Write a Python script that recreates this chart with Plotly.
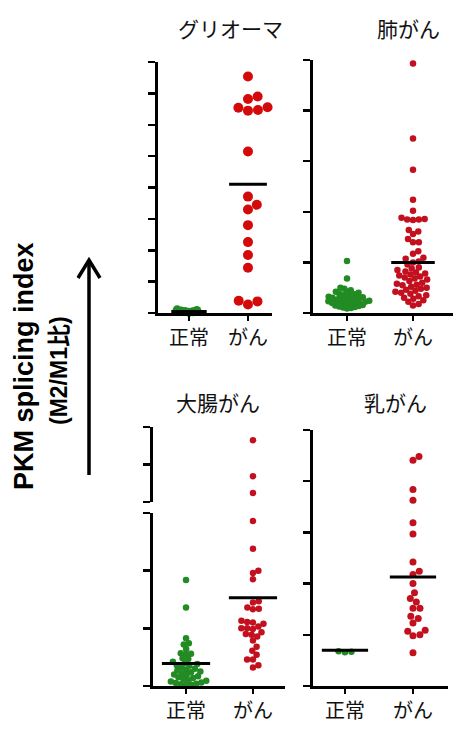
import numpy as np
import plotly.graph_objects as go

W, H = 456, 731

categories = ["正常", "がん"]
panel_titles = ["グリオーマ", "肺がん", "大腸がん", "乳がん"]
y_title = "PKM splicing index"
y_subtitle = "(M2/M1比)"

glioma_normal = [0.02, 0.04, 0.06, 0.08, 0.05, 0.1]
glioma_cancer = [7.54, 6.9, 6.82, 6.56, 6.54, 6.47, 6.45, 5.15, 3.71, 3.45, 3.3,
                 2.8, 2.26, 1.85, 1.44, 0.39, 0.37, 0.27]
lung_normal = [1.03, 0.68, 0.5, 0.48, 0.45, 0.42, 0.42, 0.4, 0.38, 0.37, 0.35, 0.35,
               0.33, 0.32, 0.31, 0.3, 0.3, 0.29, 0.28, 0.27, 0.26, 0.25, 0.25, 0.24,
               0.23, 0.22, 0.22, 0.21, 0.2, 0.2, 0.19, 0.18, 0.17, 0.16, 0.15, 0.14,
               0.13, 0.12, 0.11, 0.1, 0.09]
lung_cancer = [4.93, 3.45, 2.83, 2.24, 2.02, 1.88, 1.85, 1.84, 1.85, 1.86, 1.64, 1.61,
               1.56, 1.46, 1.4, 1.4, 1.22, 1.17, 1.09, 1.07, 1.02, 1.0, 0.96, 0.9,
               0.88, 0.85, 0.82, 0.8, 0.78, 0.76, 0.74, 0.72, 0.7, 0.68, 0.66, 0.63,
               0.6, 0.58, 0.56, 0.55, 0.52, 0.5, 0.48, 0.46, 0.44, 0.42, 0.4, 0.38,
               0.35, 0.33, 0.3, 0.28, 0.25, 0.22, 0.18, 0.15]
colon_normal = [1.84, 1.36, 0.83, 0.74, 0.72, 0.64, 0.57, 0.56, 0.55, 0.48, 0.47, 0.42,
                0.4, 0.38, 0.36, 0.35, 0.33, 0.3, 0.28, 0.27, 0.25, 0.24, 0.22, 0.2,
                0.19, 0.17, 0.15, 0.14, 0.12, 0.1, 0.09, 0.08, 0.06, 0.05, 0.04, 0.03,
                0.02, 0.02]
colon_cancer = [5.65, 4.69, 4.24, 2.86, 2.38, 2.0, 1.96, 1.85, 1.47, 1.45, 1.36, 1.34,
                1.33, 1.13, 1.11, 1.1, 1.08, 1.03, 1.0, 1.0, 0.99, 0.93, 0.9, 0.89,
                0.86, 0.79, 0.68, 0.61, 0.54, 0.46, 0.46, 0.36, 0.32]
breast_normal = [0.68, 0.67, 0.66]
breast_cancer = [4.48, 4.41, 3.84, 3.63, 3.19, 2.97, 2.42, 2.24, 2.18, 2.0, 1.82, 1.71,
                 1.64, 1.52, 1.52, 1.36, 1.32, 1.23, 1.09, 1.07, 1.0, 0.98, 0.65]

mean_glioma = [0.05, 4.1]
mean_lung = [None, 1.0]
mean_colon = [0.39, 1.53]
mean_breast = [0.70, 2.13]

GREEN = "#238b23"
RED = "#c3101e"
RED_G = "#d40a0a"

# panel geometry in pixels: left, right, top, bottom, xrange, yrange, dtick
panels = {
    "glioma": dict(l=158, r=272, t=62, b=313, xr=[-0.525, 1.407], yr=[0, 8], dt=1),
    "lung": dict(l=313, r=453, t=60, b=313, xr=[-0.515, 1.606], yr=[0, 5], dt=1),
    "colon": dict(l=153, r=285, t=513, b=686, xr=[-0.493, 1.478], yr=[0, 3], dt=1),
    "colon_up": dict(l=153, r=285, t=427, b=502, xr=[-0.493, 1.478], yr=[4, 6], dt=1),
    "breast": dict(l=313, r=448, t=430, b=686, xr=[-0.47, 1.515], yr=[0, 5], dt=1),
}


def swarm(values, p, d, sep=1.0):
    ppu_y = (p["b"] - p["t"]) / (p["yr"][1] - p["yr"][0])
    ppu_x = (p["r"] - p["l"]) / (p["xr"][1] - p["xr"][0])
    dd = d * sep
    vals = np.asarray(values, dtype=float)
    order = np.argsort(vals)
    placed = []
    offs = np.zeros(len(vals))
    for i in order:
        y = vals[i] * ppu_y
        cands = [0.0]
        for (px, py) in placed:
            dy = abs(py - y)
            if dy < dd:
                dx = np.sqrt(dd * dd - dy * dy)
                cands += [px + dx, px - dx]
        cands.sort(key=lambda c: (round(abs(c), 6), -c))
        chosen = 0.0
        for c in cands:
            if all((c - px) ** 2 + (y - py) ** 2 >= dd * dd - 1e-6 for px, py in placed):
                chosen = c
                break
        placed.append((chosen, y))
        offs[i] = chosen / ppu_x
    return offs


fig = go.Figure()


def add_points(values, cat, color, size, sep, p, xa, ya):
    offs = swarm(values, p, size, sep)
    xs = [cat + o for o in offs]
    fig.add_trace(go.Scatter(x=xs, y=values, mode="markers", xaxis=xa, yaxis=ya,
                             marker=dict(color=color, size=size, line=dict(width=0)),
                             cliponaxis=False, showlegend=False, hoverinfo="y"))


def add_mean(m, cat, xa, ya, hw=0.33):
    if m is None:
        return
    fig.add_trace(go.Scatter(x=[cat - hw, cat + hw], y=[m, m], mode="lines",
                             xaxis=xa, yaxis=ya, line=dict(color="black", width=3),
                             cliponaxis=False, showlegend=False, hoverinfo="skip"))


# glioma
add_points(glioma_normal, 0, GREEN, 9, 0.45, panels["glioma"], "x", "y")
add_points(glioma_cancer, 1, RED_G, 10, 1.0, panels["glioma"], "x", "y")
add_mean(mean_glioma[0], 0, "x", "y", 0.3)
add_mean(mean_glioma[1], 1, "x", "y", 0.32)
# lung
add_points(lung_normal, 0, GREEN, 6.5, 0.62, panels["lung"], "x2", "y2")
add_points(lung_cancer, 1, RED, 6.5, 0.9, panels["lung"], "x2", "y2")
add_mean(mean_lung[1], 1, "x2", "y2")
# colon (broken axis)
cn_low = [v for v in colon_normal if v <= 3]
cc_low = [v for v in colon_cancer if v <= 3]
cc_up = [v for v in colon_cancer if v > 3]
add_points(cn_low, 0, GREEN, 6.5, 0.8, panels["colon"], "x3", "y3")
add_points(cc_low, 1, RED, 6.5, 0.9, panels["colon"], "x3", "y3")
add_points(cc_up, 1, RED, 6.5, 0.9, panels["colon_up"], "x5", "y5")
add_mean(mean_colon[0], 0, "x3", "y3", 0.36)
add_mean(mean_colon[1], 1, "x3", "y3", 0.36)
# breast
add_points(breast_normal, 0, GREEN, 6.5, 1.0, panels["breast"], "x4", "y4")
add_points(breast_cancer, 1, RED, 7, 1.0, panels["breast"], "x4", "y4")
add_mean(mean_breast[0], 0, "x4", "y4", 0.34)
add_mean(mean_breast[1], 1, "x4", "y4", 0.34)

JP = "Noto Sans CJK JP"


def xaxis_cfg(p, ya, visible=True):
    return dict(domain=[p["l"] / W, p["r"] / W], range=p["xr"], anchor=ya,
                showline=visible, linewidth=3, linecolor="black",
                ticks="outside" if visible else "", ticklen=5, tickwidth=2.5,
                tickcolor="black", tickvals=[0, 1], ticktext=categories,
                showticklabels=visible, tickfont=dict(family=JP, size=20, color="#111"),
                showgrid=False, zeroline=False, fixedrange=True)


def yaxis_cfg(p, xa):
    return dict(domain=[(H - p["b"]) / H, (H - p["t"]) / H], range=p["yr"], anchor=xa,
                showline=True, linewidth=3, linecolor="black", ticks="outside",
                ticklen=7, tickwidth=2.5, tickcolor="black", dtick=p["dt"],
                tick0=0, showticklabels=False, showgrid=False, zeroline=False,
                fixedrange=True)


fig.update_layout(
    width=W, height=H, autosize=False,
    margin=dict(l=0, r=0, t=0, b=0),
    paper_bgcolor="white", plot_bgcolor="white",
    xaxis=xaxis_cfg(panels["glioma"], "y"), yaxis=yaxis_cfg(panels["glioma"], "x"),
    xaxis2=xaxis_cfg(panels["lung"], "y2"), yaxis2=yaxis_cfg(panels["lung"], "x2"),
    xaxis3=xaxis_cfg(panels["colon"], "y3"), yaxis3=yaxis_cfg(panels["colon"], "x3"),
    xaxis4=xaxis_cfg(panels["breast"], "y4"), yaxis4=yaxis_cfg(panels["breast"], "x4"),
    xaxis5=xaxis_cfg(panels["colon_up"], "y5", visible=False),
    yaxis5=yaxis_cfg(panels["colon_up"], "x5"),
)

title_pos = [(230, 28), (408, 28), (218, 402), (395, 402)]
for txt, (cx, cy) in zip(panel_titles, title_pos):
    fig.add_annotation(text=txt, x=cx / W, y=1 - cy / H, xref="paper", yref="paper",
                       showarrow=False, xanchor="center", yanchor="middle",
                       font=dict(family=JP, size=21, color="#111"))

fig.add_annotation(text="<b>" + y_title + "</b>", x=24 / W, y=1 - 366 / H,
                   xref="paper", yref="paper", showarrow=False, textangle=-90,
                   xanchor="center", yanchor="middle",
                   font=dict(family="Liberation Sans, Arial", size=27, color="black"))
fig.add_annotation(text="<b>" + y_subtitle + "</b>", x=59 / W, y=1 - 371 / H,
                   xref="paper", yref="paper", showarrow=False, textangle=-90,
                   xanchor="center", yanchor="middle",
                   font=dict(family="Liberation Sans, Noto Sans CJK JP", size=23, color="black"))

# arrow
fig.add_shape(type="line", xref="paper", yref="paper",
              x0=89 / W, x1=89 / W, y0=1 - 475 / H, y1=1 - 262 / H,
              line=dict(color="black", width=3.5))
fig.add_shape(type="path", xref="paper", yref="paper",
              path=f"M {78/W} {1-278/H} L {89/W} {1-260/H} L {100/W} {1-278/H}",
              line=dict(color="black", width=3.5))

fig.write_html("out.html", config={"displayModeBar": False, "staticPlot": True},
               post_script="document.body.style.margin='0px';document.body.style.overflow='hidden';")
